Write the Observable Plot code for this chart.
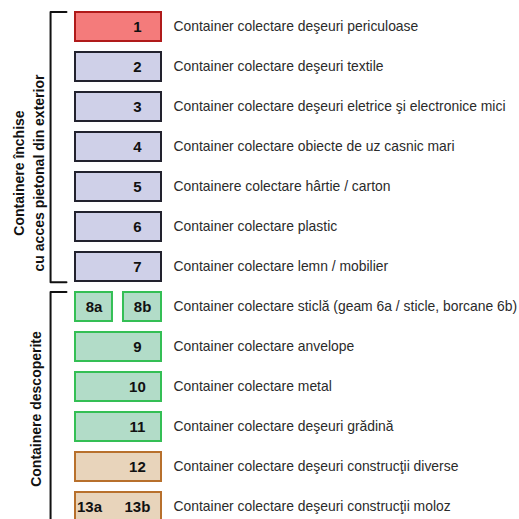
<!DOCTYPE html>
<html>
<head>
<meta charset="utf-8">
<script src="https://cdn.jsdelivr.net/npm/d3@7"></script>
<script src="https://cdn.jsdelivr.net/npm/@observablehq/plot@0.6"></script>
<style>
  html, body { margin: 0; padding: 0; background: #fff; }
  #chart { width: 519px; height: 519px; overflow: hidden; }
</style>
</head>
<body>
<div id="chart"></div>
<script>
// ---- data ----
const rowIds = [1, 2, 3, 4, 5, 6, 7, 8, 9, 10, 11, 12, 13];
const boxTags = [["1"], ["2"], ["3"], ["4"], ["5"], ["6"], ["7"], ["8a", "8b"], ["9"], ["10"], ["11"], ["12"], ["13a", "13b"]];
const boxesPerRow = [1, 1, 1, 1, 1, 1, 1, 2, 1, 1, 1, 1, 1];
const rowTypes = ["periculoase", "inchise", "inchise", "inchise", "inchise", "inchise", "inchise",
  "descoperite", "descoperite", "descoperite", "descoperite", "constructii", "constructii"];
const descriptions = [
  "Container colectare deşeuri periculoase",
  "Container colectare deşeuri textile",
  "Container colectare deşeuri eletrice şi electronice mici",
  "Container colectare obiecte de uz casnic mari",
  "Containere colectare hârtie / carton",
  "Container colectare plastic",
  "Container colectare lemn / mobilier",
  "Container colectare sticlă (geam 6a / sticle, borcane 6b)",
  "Container colectare anvelope",
  "Container colectare metal",
  "Container colectare deşeuri grădină",
  "Container colectare deşeuri construcţii diverse",
  "Container colectare deşeuri construcţii moloz"
];
const groupNames = ["închise", "descoperite"];
const groupFirstRow = [1, 8];
const groupLastRow = [7, 14];
const groupTitleLines = [["Containere închise", "cu acces pietonal din exterior"], ["Containere descoperite"]];

// ---- styles ----
const typeDomain = ["periculoase", "inchise", "descoperite", "constructii"];
const fillRange = ["#f47b7b", "#cfd0e8", "#b2dcc8", "#e8d4bb"];
const strokeRange = ["#b01a1a", "#22222e", "#34bf55", "#b8702c"];
const fillOf = t => fillRange[typeDomain.indexOf(t)];
const strokeOf = t => strokeRange[typeDomain.indexOf(t)];
const FONT = "'Liberation Sans', Arial, sans-serif";
const HALF = 0.3625; // half box height in row units

// ---- build tables ----
const boxes = [];
const tags = [];
rowIds.forEach((row, i) => {
  const t = rowTypes[i];
  if (boxesPerRow[i] === 2) {
    boxes.push({row, x1: 0, x2: 0.43, type: t});
    boxes.push({row, x1: 0.558, x2: 1, type: t});
    tags.push({row, x: 0.215, text: boxTags[i][0]});
    tags.push({row, x: 0.78, text: boxTags[i][1]});
  } else {
    boxes.push({row, x1: 0, x2: 1, type: t});
    if (boxTags[i].length === 2) {
      tags.push({row, x: 0.163, text: boxTags[i][0]});
      tags.push({row, x: 0.72, text: boxTags[i][1]});
    } else {
      tags.push({row, x: 0.72, text: boxTags[i][0]});
    }
  }
});
const descRows = rowIds.map((row, i) => ({row, text: descriptions[i]}));

const bracketPts = [];
groupNames.forEach((g, k) => {
  const top = groupFirstRow[k] - HALF - 0.01;
  const bot = groupLastRow[k] + HALF + 0.02;
  bracketPts.push({g, x: -0.105, y: top});
  bracketPts.push({g, x: -0.29, y: top});
  bracketPts.push({g, x: -0.29, y: bot});
  bracketPts.push({g, x: -0.105, y: bot});
});

const titleTexts = [
  {x: -0.652, y: 4.65, text: groupTitleLines[0][0]},
  {x: -0.42, y: 4.65, text: groupTitleLines[0][1]},
  {x: -0.455, y: 10.55, text: groupTitleLines[1][0]}
];

const plot = Plot.plot({
  width: 519,
  height: 519,
  margin: 0,
  style: {fontFamily: FONT, background: "#fff"},
  x: {type: "linear", domain: [0, 1], range: [75, 161], axis: null},
  y: {type: "linear", domain: [0.5, 13.5], range: [6.5, 526.5], axis: null},
  marks: [
    Plot.line(bracketPts, {x: "x", y: "y", z: "g", stroke: "#111", strokeWidth: 2, curve: "linear"}),
    Plot.rect(boxes, {
      x1: "x1", x2: "x2",
      y1: d => d.row - HALF, y2: d => d.row + HALF,
      fill: d => fillOf(d.type), stroke: d => strokeOf(d.type), strokeWidth: 2
    }),
    Plot.text(tags, {
      x: "x", y: "row", text: "text", textAnchor: "middle",
      fontSize: 15, fontWeight: "bold", fill: "#111", fontFamily: FONT
    }),
    Plot.text(descRows, {
      x: 1, dx: 12, y: "row", text: "text", textAnchor: "start",
      fontSize: 13.9, fill: "#2b2b2b", fontFamily: FONT
    }),
    Plot.text(titleTexts, {
      x: "x", y: "y", text: "text", rotate: -90, textAnchor: "middle",
      fontSize: 14, fontWeight: "bold", fill: "#111", fontFamily: FONT
    })
  ]
});
document.getElementById("chart").appendChild(plot);
</script>
</body>
</html>
